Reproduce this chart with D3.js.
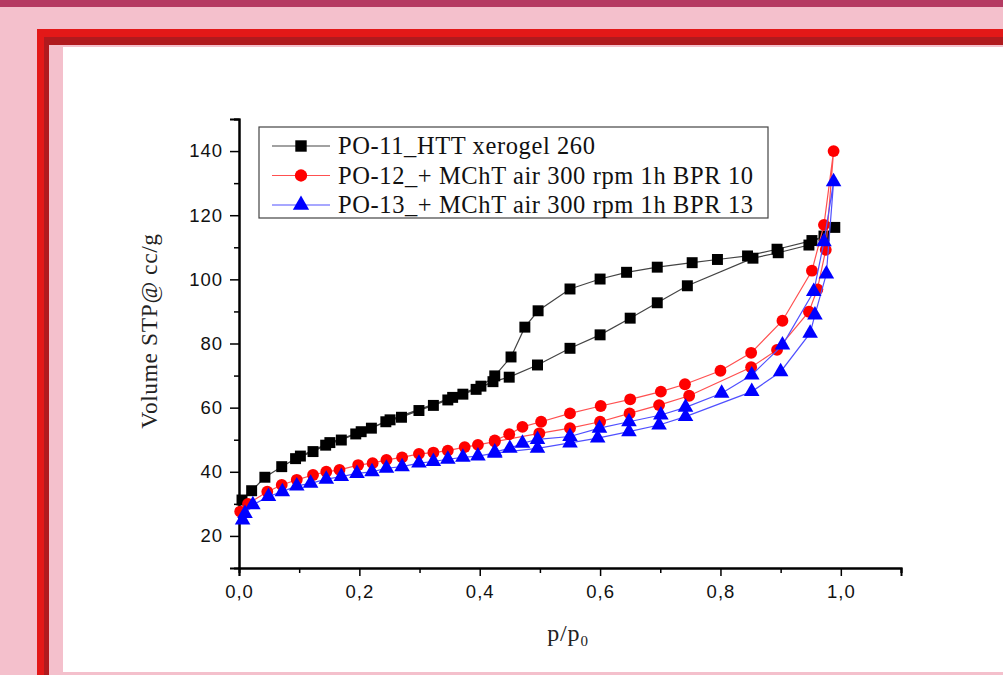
<!DOCTYPE html>
<html lang="en">
<head>
<meta charset="UTF-8">
<title>Isotherms</title>
<script src="https://d3js.org/d3.v7.min.js"></script>
<style>
  body { margin: 0; background: #f4c0cc; }
  svg { display: block; }
</style>
</head>
<body>
<svg id="chart" width="1003" height="675"></svg>
<script>
// data: [p/p0, volume]
const po11Ads = [[0.005,31.2],[0.021,34.1],[0.043,38.3],[0.071,41.6],[0.094,44.1],[0.123,46.3],[0.144,48.3],[0.17,49.9],[0.194,51.8],[0.22,53.6],[0.244,55.6],[0.27,57],[0.299,59.1],[0.323,60.7],[0.347,62.4],[0.372,64.2],[0.394,65.7],[0.422,68.1],[0.449,69.5],[0.496,73.3],[0.55,78.5],[0.6,82.7],[0.65,87.9],[0.695,92.7],[0.745,98],[0.854,106.6],[0.896,108.3],[0.947,110.7],[0.99,116.2]];
const po11Des = [[0.972,113.5],[0.952,112.1],[0.894,109.4],[0.845,107.3],[0.795,106.2],[0.753,105.2],[0.695,103.8],[0.644,102.2],[0.6,100.1],[0.55,97],[0.497,90.2],[0.475,85.1],[0.452,75.8],[0.425,69.9],[0.402,66.7],[0.355,63.2],[0.251,56.2],[0.203,52.5],[0.151,49.1],[0.102,44.9]];

const po12Ads = [[0.002,27.6],[0.015,30],[0.047,33.8],[0.071,35.9],[0.096,37.5],[0.123,39],[0.145,40],[0.167,40.6],[0.198,42.1],[0.222,42.7],[0.245,43.7],[0.271,44.5],[0.299,45.6],[0.323,46],[0.347,46.6],[0.375,47.7],[0.397,48.4],[0.425,49.4],[0.499,52],[0.55,53.6],[0.6,55.6],[0.649,58.2],[0.698,60.8],[0.748,63.7],[0.851,72.6],[0.894,78],[0.947,89.9],[0.961,96.9],[0.975,109.2],[0.988,140]];
const po12Des = [[0.972,117],[0.952,102.7],[0.903,87.1],[0.851,77.1],[0.8,71.5],[0.741,67.3],[0.701,65],[0.65,62.6],[0.601,60.5],[0.55,58.2],[0.502,55.6],[0.471,54],[0.449,51.7],[0.425,49.8]];

const po13Ads = [[0.006,25],[0.01,27],[0.023,29.7],[0.049,32.3],[0.072,33.8],[0.096,35.6],[0.119,36.4],[0.145,37.7],[0.17,38.5],[0.196,39.5],[0.221,40],[0.245,41.1],[0.271,41.6],[0.299,42.7],[0.323,43.2],[0.347,43.9],[0.372,44.5],[0.397,44.9],[0.425,45.8],[0.496,47.3],[0.55,49],[0.596,50.5],[0.648,52.5],[0.698,54.6],[0.742,57.2],[0.852,65],[0.9,71.2],[0.949,83.2],[0.957,88.9],[0.976,101.7],[0.988,130.4]];
const po13Des = [[0.972,111.7],[0.955,96.2],[0.903,79.5],[0.852,70.2],[0.802,64.5],[0.742,60.1],[0.701,57.7],[0.648,55.6],[0.599,53.6],[0.55,51],[0.496,50.1],[0.471,48.9],[0.45,47.3],[0.425,46.2]];

const seriesNames = ["PO-11_HTT xerogel 260", "PO-12_+ MChT air 300 rpm 1h BPR 10", "PO-13_+ MChT air 300 rpm 1h BPR 13"];
const xTicks = [0, 0.2, 0.4, 0.6, 0.8, 1.0];
const yTicks = [20, 40, 60, 80, 100, 120, 140];

const series = [
  { name: seriesNames[0], pts: po11Ads.concat(po11Des), line: "#444", fill: "#000", shape: d3.symbolSquare, size: 120 },
  { name: seriesNames[1], pts: po12Ads.concat(po12Des), line: "#ff5050", fill: "#ff0000", shape: d3.symbolCircle, size: 110 },
  { name: seriesNames[2], pts: po13Ads.concat(po13Des), line: "#5050ff", fill: "#0000ff", shape: d3.symbolTriangle, size: 105 }
];

const serif = "Liberation Serif, Times New Roman, serif";
const sans = "Liberation Sans, Arial, sans-serif";

const svg = d3.select("#chart");

// slide background
svg.append("rect").attr("width", 1003).attr("height", 675).attr("fill", "#f4c0cc");
svg.append("rect").attr("width", 1003).attr("height", 7).attr("fill", "#b53a62");
svg.append("rect").attr("x", 37).attr("y", 29).attr("width", 966).attr("height", 646).attr("fill", "#e31818");
svg.append("rect").attr("x", 44).attr("y", 37).attr("width", 959).attr("height", 638).attr("fill", "#b01a1e");
svg.append("rect").attr("x", 49).attr("y", 45).attr("width", 954).attr("height", 630).attr("fill", "#f4c0cc");
svg.append("rect").attr("x", 63).attr("y", 47).attr("width", 940).attr("height", 625).attr("fill", "#fff");

const x = d3.scaleLinear().domain([0, 1.1]).range([239, 901]);
const y = d3.scaleLinear().domain([10, 150]).range([568, 119]);

// axes
const xAxis = svg.append("g").attr("transform", "translate(0,568)")
  .call(d3.axisBottom(x).tickValues(xTicks).tickSize(8).tickFormat(d => d3.format(".1f")(d).replace(".", ",")));
svg.append("g").attr("transform", "translate(0,568)")
  .call(d3.axisBottom(x).tickValues(d3.range(0.1, 1.15, 0.2)).tickSize(5).tickFormat(""));
const yAxis = svg.append("g").attr("transform", "translate(239,0)")
  .call(d3.axisLeft(y).tickValues(yTicks).tickSize(9));
svg.append("g").attr("transform", "translate(239,0)")
  .call(d3.axisLeft(y).tickValues(d3.range(30, 151, 20)).tickSize(5).tickFormat(""));

svg.selectAll(".domain").attr("stroke", "#000").attr("stroke-width", 2);
svg.selectAll(".tick line").attr("stroke", "#000").attr("stroke-width", 1.5);
xAxis.selectAll("text").attr("font-family", sans).attr("font-size", 18.5).attr("letter-spacing", 1)
  .attr("fill", "#111").attr("dy", "1.0em");
yAxis.selectAll("text").attr("font-family", sans).attr("font-size", 18.5).attr("letter-spacing", 1)
  .attr("fill", "#111").attr("x", -16);

// axis titles
const xt = svg.append("text").attr("x", 568).attr("y", 641).attr("text-anchor", "middle")
  .attr("font-family", serif).attr("font-size", 24).attr("letter-spacing", 0.8).attr("fill", "#222");
xt.append("tspan").text("p/p");
xt.append("tspan").text("0").attr("font-size", 15).attr("dy", 5);

svg.append("text").attr("transform", "translate(157,331) rotate(-90)").attr("text-anchor", "middle")
  .attr("font-family", serif).attr("font-size", 23.5).attr("letter-spacing", 0.6).attr("fill", "#222")
  .text("Volume STP@ cc/g");

// series
const line = d3.line().x(d => x(d[0])).y(d => y(d[1]));
series.forEach(s => {
  const g = svg.append("g");
  g.append("path").attr("d", line(s.pts)).attr("fill", "none").attr("stroke", s.line).attr("stroke-width", 1.2);
  g.selectAll("path.m").data(s.pts).enter().append("path").attr("class", "m")
    .attr("d", d3.symbol().type(s.shape).size(s.size))
    .attr("transform", d => `translate(${x(d[0])},${y(d[1])})`)
    .attr("fill", s.fill);
});

// legend
const lg = svg.append("g");
lg.append("rect").attr("x", 259).attr("y", 127).attr("width", 509).attr("height", 91)
  .attr("fill", "#fff").attr("stroke", "#444").attr("stroke-width", 1.2);
series.forEach((s, i) => {
  const ly = 146 + i * 29.5;
  lg.append("line").attr("x1", 272).attr("x2", 330).attr("y1", ly).attr("y2", ly).attr("stroke", s.line).attr("stroke-width", 1.2);
  lg.append("path").attr("d", d3.symbol().type(s.shape).size(s.size + 10)).attr("transform", `translate(301,${ly})`).attr("fill", s.fill);
  lg.append("text").attr("x", 338).attr("y", ly + 8).attr("font-family", serif)
    .attr("font-size", 24.5).attr("letter-spacing", 0.6).attr("fill", "#111").text(s.name);
});
</script>
</body>
</html>
